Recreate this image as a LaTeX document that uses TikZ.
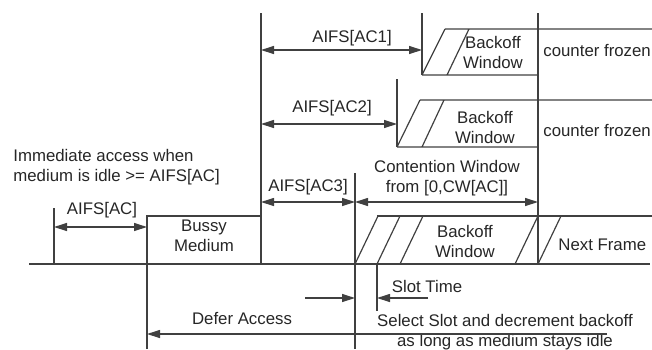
\documentclass[tikz,border=0pt]{standalone}
\usepackage{fontspec}
\setmainfont{Liberation Sans}
\usetikzlibrary{arrows.meta}

\tikzset{
  wire/.style={draw=black!75, line width=0.6pt},
  dur/.style={wire, {Triangle[length=6.5pt,width=4pt]}-{Triangle[length=6.5pt,width=4pt]}},
  toend/.style={wire, -{Triangle[length=6.5pt,width=4pt]}},
  lbl/.style={font=\fontsize{8.4}{10}\selectfont, text=black!85, align=center, inner sep=0pt},
}

\begin{document}
\begin{tikzpicture}[x=0.5pt,y=-0.5pt]
  \useasboundingbox (0,0) rectangle (652,349);

  % time axis
  \coordinate (axisL) at (29,264);
  \coordinate (axisR) at (650,264);
  \draw[wire] (axisL) -- (axisR);

  % busy medium and the slot boundaries
  \draw[wire] (54,208) -- (54,264);
  \draw[wire] (147,349) -- (147,216) -- (261,216);
  \draw[wire] (261,13) -- (261,264);
  \draw[wire] (422,13) -- (422,75);
  \draw[wire] (397,79) -- (397,147);
  \draw[wire] (355,173) -- (355,349);
  \draw[wire] (538,13) -- (538,264);
  \draw[wire] (377,264) -- (377,311);

  % the backoff windows
  \draw[wire] (445,29) -- (652,29) (422,75) -- (538,75)
              (422,75) -- (445,29) (447,75) -- (469,29);
  \draw[wire] (420,100) -- (652,100) (397,147) -- (538,147)
              (397,147) -- (420,100) (422,147) -- (444,100);
  \draw[wire] (377,216) -- (652,216);
  \foreach \x in {355,377,400,515,538}
    \draw[wire] (\x,264) -- ++(23,-48);

  % the texts
  \node[lbl, align=left, anchor=west] (imm) at (13,167) {Immediate access when\\medium is idle >= AIFS[AC]};
  \node[lbl] (busy) at (204,236) {Bussy\\Medium};
  \node[lbl] (aifs0) at (102,210) {AIFS[AC]};
  \node[lbl] (aifs1) at (352,38) {AIFS[AC1]};
  \node[lbl] (aifs2) at (332,108) {AIFS[AC2]};
  \node[lbl] (aifs3) at (308,187) {AIFS[AC3]};
  \node[lbl] (bw1) at (493,52) {Backoff\\Window};
  \node[lbl] (bw2) at (485,127) {Backoff\\Window};
  \node[lbl] (bw3) at (465,241) {Backoff\\Window};
  \node[lbl, anchor=west] (frz1) at (543,50) {counter frozen};
  \node[lbl, anchor=west] (frz2) at (543,130) {counter frozen};
  \node[lbl, anchor=west] (next) at (558,245) {Next Frame};
  \node[lbl] (cw) at (447,178) {Contention Window\\from [0,CW[AC]]};
  \node[lbl] (slot) at (427,286) {Slot Time};
  \node[lbl] (sel) at (505,332) {Select Slot and decrement backoff\\as long as medium stays idle};
  \node[lbl] (defer) at (242,318) {Defer Access};

  % ends of the arrows
  \coordinate (a0L) at (54,227);   \coordinate (a0R) at (147,227);
  \coordinate (a1L) at (261,50);   \coordinate (a1R) at (422,50);
  \coordinate (a2L) at (261,124);  \coordinate (a2R) at (397,124);
  \coordinate (a3L) at (261,202);  \coordinate (a3R) at (355,202);
  \coordinate (cwR) at (538,202);
  \coordinate (slotS) at (428,298); \coordinate (slotE) at (377,298);
  \coordinate (waitS) at (305,298); \coordinate (waitE) at (355,298);
  \coordinate (dfS) at (607,334);   \coordinate (dfE) at (147,334);

  % draw the arrows
  \draw[dur] (a0L) -- (a0R);
  \draw[dur] (a1L) -- (a1R);
  \draw[dur] (a2L) -- (a2R);
  \draw[dur] (a3L) -- (a3R);
  \draw[dur] (a3R) -- (cwR);
  \draw[toend] (slotS) -- (slotE);
  \draw[toend] (waitS) -- (waitE);
  \draw[toend] (dfS) -- (dfE);
\end{tikzpicture}
\end{document}
